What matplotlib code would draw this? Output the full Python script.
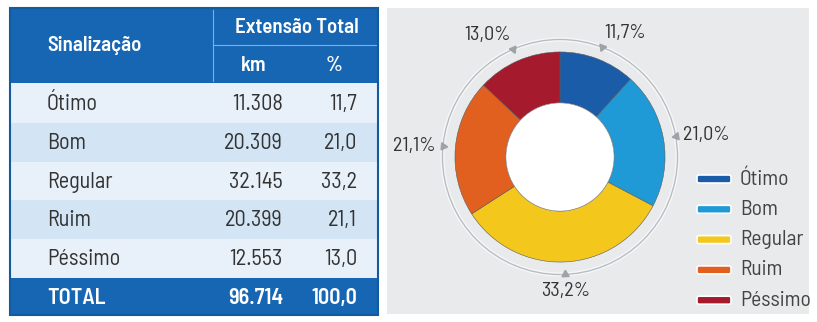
import numpy as np
import matplotlib
matplotlib.use("Agg")
import matplotlib.pyplot as plt
from matplotlib.patches import Rectangle, Circle, FancyBboxPatch

categorias = ["Ótimo", "Bom", "Regular", "Ruim", "Péssimo"]
extensao_km = [11308, 20309, 32145, 20399, 12553]
percentual = [11.7, 21.0, 33.2, 21.1, 13.0]
total_km = 96714
total_pct = 100.0
cores = ["#1b5ca8", "#1f9ad6", "#f3c71c", "#e2601f", "#a51a2c"]

AZUL = "#1766b3"
TXT = "#333333"
plt.rcParams["font.family"] = ["Barlow Semi Condensed", "Roboto Condensed", "DejaVu Sans"]


def fmt_km(v):
    return f"{v:,}".replace(",", ".")


def fmt_pct(v, suf=""):
    return f"{v:.1f}".replace(".", ",") + suf


W, H = 817, 322
fig = plt.figure(figsize=(W / 100, H / 100), dpi=100)
fig.patch.set_facecolor("white")

# fundo em coordenadas de pixel
bg = fig.add_axes([0, 0, 1, 1])
bg.set_xlim(0, W)
bg.set_ylim(H, 0)
bg.axis("off")

# ---------------- tabela ----------------
x0, x1, xs = 10, 378, 213
y_head, y_mid, y_body = 8, 45, 83
y_rows = [83, 123, 162, 200, 239, 278]
y_tot = 315
FS_H = 15
FS = 16

bg.add_patch(Rectangle((x0, y_head), x1 - x0, y_body - y_head, color=AZUL, lw=0))
bg.plot([xs, xs], [y_head + 2, y_body - 2], color="#7fb0dc", lw=0.8)
bg.plot([xs, x1 - 2], [y_mid, y_mid], color="#7fb0dc", lw=0.8)
bg.text(47, (y_head + y_body) / 2, "Sinalização", color="white", fontsize=FS_H,
        fontweight="semibold", va="center", ha="left")
bg.text((xs + x1) / 2 + 1, (y_head + y_mid) / 2 + 1, "Extensão Total", color="white",
        fontsize=FS_H, fontweight="semibold", va="center", ha="center")
bg.text(254, (y_mid + y_body) / 2 + 1, "km", color="white", fontsize=FS_H,
        fontweight="semibold", va="center", ha="center")
bg.text(334, (y_mid + y_body) / 2 + 1, "%", color="white", fontsize=FS_H,
        fontweight="semibold", va="center", ha="center")

for i, (cat, km, pct) in enumerate(zip(categorias, extensao_km, percentual)):
    ya, yb = y_rows[i], y_rows[i + 1]
    fundo = "#e8f0f9" if i % 2 == 0 else "#d3e4f4"
    bg.add_patch(Rectangle((x0, ya), x1 - x0, yb - ya, color=fundo, lw=0))
    yc = (ya + yb) / 2 + 1
    bg.text(47, yc, cat, color=TXT, fontsize=FS, va="center", ha="left")
    bg.text(283, yc, fmt_km(km), color=TXT, fontsize=FS, va="center", ha="right")
    bg.text(357, yc, fmt_pct(pct), color=TXT, fontsize=FS, va="center", ha="right")

bg.add_patch(Rectangle((x0, y_rows[-1]), x1 - x0, y_tot - y_rows[-1], color=AZUL, lw=0))
yc = (y_rows[-1] + y_tot) / 2 + 1
bg.text(47, yc, "TOTAL", color="white", fontsize=FS, fontweight="semibold", va="center")
bg.text(283, yc, fmt_km(total_km), color="white", fontsize=FS, fontweight="semibold",
        va="center", ha="right")
bg.text(357, yc, fmt_pct(total_pct), color="white", fontsize=FS, fontweight="semibold",
        va="center", ha="right")
bg.add_patch(Rectangle((x0, y_head), x1 - x0, y_tot - y_head, fill=False,
                       ec="#135a9f", lw=1.5))

# ---------------- painel do gráfico ----------------
bg.add_patch(Rectangle((387, 8), 422, 306, color="#e8eaec", lw=0))

# legenda
for i, (cat, cor) in enumerate(zip(categorias, cores)):
    yc = 179 + i * 30.3
    bg.add_patch(FancyBboxPatch((697, yc - 4), 34, 8, boxstyle="round,pad=0,rounding_size=2",
                                fc=cor, ec="white", lw=1.2))
    bg.text(740, yc, cat, color="#444444", fontsize=15.5, va="center", ha="left")

# rosca
cx, cy, esc = 560, 157, 100
ax = fig.add_axes([(cx - 1.3 * esc) / W, (H - cy - 1.3 * esc) / H,
                   2.6 * esc / W, 2.6 * esc / H])
ax.set_xlim(-1.3, 1.3)
ax.set_ylim(-1.3, 1.3)
ax.set_aspect("equal")
ax.axis("off")

wedges, _ = ax.pie(percentual, colors=cores, startangle=90, counterclock=False,
                   radius=1.01, wedgeprops=dict(width=0.49, edgecolor="#5a5a5a",
                                                linewidth=0.4))
ax.add_patch(Circle((0, 0), 0.52, fc="white", ec="#888888", lw=0.4, zorder=3))
ax.add_patch(Circle((0, 0), 1.13, fill=False, ec="#f6f7f8", lw=3.0, zorder=1))
ax.add_patch(Circle((0, 0), 1.13, fill=False, ec="#b9bdc1", lw=1.0, zorder=2))

for w, pct in zip(wedges, percentual):
    ang = (w.theta1 + w.theta2) / 2
    a = np.deg2rad(ang)
    ax.plot(1.13 * np.cos(a), 1.13 * np.sin(a), marker=(3, 0, ang + 90),
            ms=6, color="#9ea3a8", zorder=4)
    c, s = np.cos(a), np.sin(a)
    ha = "left" if c > 0.3 else ("right" if c < -0.3 else "center")
    va = "bottom" if s > 0.5 else ("top" if s < -0.5 else "center")
    r = 1.18 if va == "bottom" else 1.2
    ax.text(r * c, r * s, fmt_pct(pct, "%"), ha=ha, va=va, fontsize=14.5, color="#333333")

fig.savefig("out.png", dpi=100)
